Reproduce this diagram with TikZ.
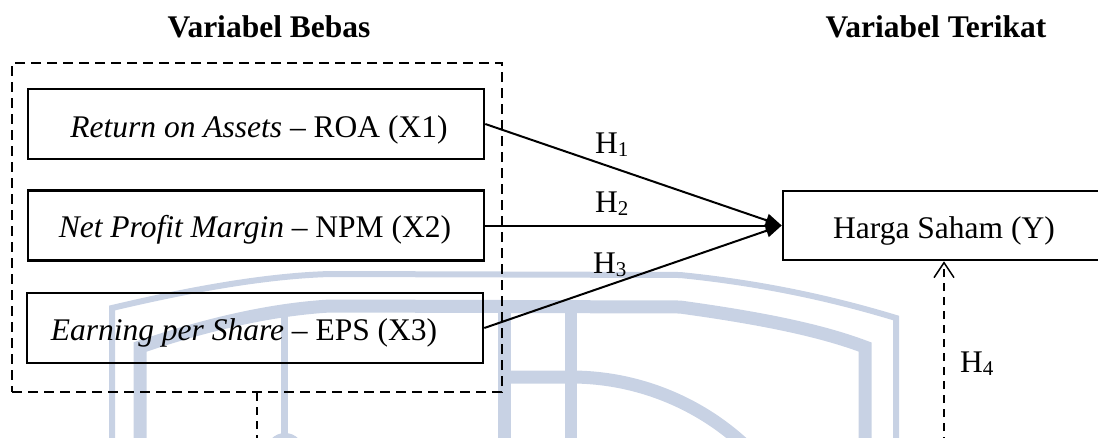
\documentclass[tikz,border=0pt]{standalone}
\usepackage{fontspec}
\setmainfont{Liberation Serif}
\usetikzlibrary{arrows.meta}
\definecolor{wm}{RGB}{200,210,228}
\newcommand{\Hsub}[1]{H\raisebox{-3pt}{\fontsize{21}{21}\selectfont #1}}
\begin{document}
\begin{tikzpicture}[x=1pt,y=-1pt, font=\fontsize{31.5}{36}\selectfont,
  box/.style={draw, line width=2.6pt, minimum width=456pt, minimum height=70pt, inner sep=0pt},
  grp/.style={draw, line width=2.2pt, dash pattern=on 10pt off 6pt, minimum width=490pt, minimum height=329pt, inner sep=0pt},
  link/.style={line width=2pt, -{Triangle[length=16pt,width=13pt]}},
  hyp/.style={line width=1.5pt, dash pattern=on 8pt off 6pt},
  lbl/.style={anchor=base, inner sep=0pt},
  hlab/.style={anchor=base west, inner sep=0pt},
  head/.style={anchor=base, inner sep=0pt, font=\bfseries\fontsize{31.5}{36}\selectfont},
  wmk/.style={draw=wm, line cap=butt}]
\useasboundingbox (0,0) rectangle (1098,437);
\clip (0,0) rectangle (1098,437);
% watermark
\draw[wmk, line width=6pt] (112,445) -- (112,308) .. controls (180,292) and (260,276) .. (330,274) -- (680,275) .. controls (760,283) and (830,298) .. (896,318) -- (896,445);
\draw[wmk, line width=13pt] (140,445) -- (140,347) .. controls (190,330) and (260,310) .. (330,306) -- (680,307) .. controls (760,318) and (820,330) .. (865,347) -- (865,445);
\draw[wmk, line width=7pt] (284,306) -- (284,440);
\fill[wm] (285,452) circle[radius=19pt];
\draw[wmk, line width=13pt] (504,306) -- (504,445);
\draw[wmk, line width=12pt] (571,306) -- (571,445);
\draw[wmk, line width=13pt] (504,377) -- (571,377) arc[start angle=90, end angle=45, radius=255pt];
% headings
\node[head] (hb) at (269,37) {Variabel Bebas};
\node[head] (ht) at (936,37) {Variabel Terikat};
% group and boxes
\node[grp] (grp) at (257,227.5) {};
\node[box] (roa) at (256,124) {};
\node[box] (npm) at (256,225.5) {};
\node[box] (eps) at (255,328) {};
\node[box, minimum width=322pt, minimum height=69pt] (hs) at (944,225.5) {};
\node[lbl] (roat) at (259,137) {\textit{Return on Assets} – ROA (X1)};
\node[lbl] (npmt) at (255,237) {\textit{Net Profit Margin} – NPM (X2)};
\node[lbl] (epst) at (244,340) {\textit{Earning per Share} – EPS (X3)};
\node[lbl] (hst) at (944,238) {Harga Saham (Y)};
% arrows
\draw[link] (roa.east) -- (hs.west);
\draw[link] (npm.east) -- (hs.west);
\draw[link] (eps.east) -- (hs.west);
\node[hlab] (h1) at (595,153) {\Hsub{1}};
\node[hlab] (h2) at (595,212) {\Hsub{2}};
\node[hlab] (h3) at (593,273) {\Hsub{3}};
\node[hlab] (h4) at (960,372) {\Hsub{4}};
% dashed links off the bottom
\coordinate (gb) at (257,445);
\draw[hyp] (grp.south) -- (gb);
\coordinate (h4s) at (944,445);
\draw[hyp, -{Straight Barb[length=15pt,width=20pt]}] (h4s) -- (hs.south);
\end{tikzpicture}
\end{document}
